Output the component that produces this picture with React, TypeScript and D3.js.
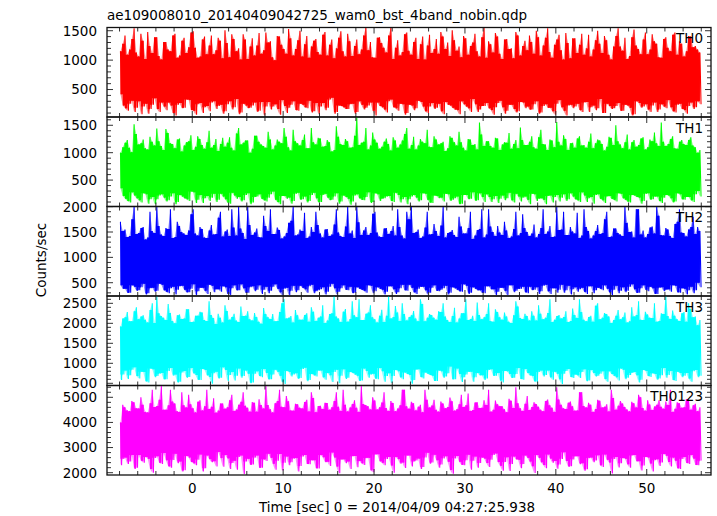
import React from "react";
import * as d3 from "d3";

const TITLE = "ae109008010_20140409042725_wam0_bst_4band_nobin.qdp";
const X_LABEL = "Time [sec] 0 = 2014/04/09 04:27:25.938";
const Y_LABEL = "Counts/sec";

// time grid of the light-curve samples (seconds): each 0.5 s step holds
// a high, a low, a second high and a second low excursion
const T_START = -7.9;
const T_STEP = 0.5;

const panelNames = ["TH0", "TH1", "TH2", "TH3", "TH0123"];
const panelColors = ["#ff0000", "#00ff00", "#0000ff", "#00ffff", "#ff00ff"];
const yDomains: [number, number][] = [
  [33, 1555],
  [18, 1651],
  [238, 2003],
  [445, 2683],
  [1908, 5470],
];
const yMajorTicks = [
  [500, 1000, 1500],
  [500, 1000, 1500],
  [500, 1000, 1500, 2000],
  [500, 1000, 1500, 2000, 2500],
  [2000, 3000, 4000, 5000],
];
const yMinorStep = [100, 100, 100, 100, 200];
const xTickLabels = [0, 10, 20, 30, 40, 50];
const xDomain: [number, number] = [-9.38, 57.07];

// ---- TH0 (counts/sec)
const th0Hi = [
  1150, 1420, 1180, 1540, 1060, 1330, 1480, 1120, 1390, 1010,
  1310, 1150, 1450, 1080, 1380, 1220, 1490, 1040, 1350, 1100,
  1420, 1170, 1330, 1510, 1050, 1360, 1200, 1440, 1020, 1370,
  1250, 1110, 1470, 1320, 1000, 1400, 1190, 1530, 1080, 1340,
  1060, 1410, 1230, 1360, 1090, 1480, 1260, 1030, 1380, 1150,
  1450, 1070, 1350, 1180, 1560, 1310, 1040, 1390, 1210, 1420,
  1020, 1340, 1140, 1470, 1090, 1380, 1270, 1010, 1430, 1190,
  1110, 1400, 1300, 1510, 1160, 1050, 1370, 1240, 1450, 1060,
  1550, 1320, 1130, 1400, 1020, 1360, 1200, 1480, 1080, 1330,
  1420, 1110, 1390, 1250, 1540, 1040, 1350, 1170, 1460, 1030,
  1370, 1260, 1090, 1430, 1180, 1500, 1120, 1340, 1010, 1410,
  1230, 1380, 1070, 1520, 1190, 1350, 1100, 1440, 1280, 1040,
  1390, 1150, 1470, 1320, 1060, 1410, 1220, 1180,
];
const th0Lo = [
  420, 180, 260, 120, 300, 210, 90, 240, 170, 280,
  150, 230, 60, 270, 190, 320, 140, 250, 100, 220,
  280, 170, 240, 130, 300, 200, 80, 260, 180, 230,
  120, 290, 210, 160, 250, 70, 220, 190, 300, 140,
  240, 180, 110, 270, 210, 150, 330, 90, 230, 200,
  170, 260, 120, 240, 190, 280, 60, 220, 160, 300,
  200, 140, 250, 100, 230, 180, 290, 130, 210, 170,
  260, 80, 240, 190, 150, 300, 210, 120, 250, 160,
  220, 180, 70, 270, 200, 140, 240, 110, 290, 180,
  160, 250, 90, 220, 190, 130, 260, 200, 60, 240,
  210, 150, 280, 120, 230, 180, 100, 260, 170, 220,
  140, 240, 190, 80, 270, 210, 160, 230, 120, 250,
  180, 200, 110, 260, 150, 220, 170, 300,
];
const th0Hi2 = [
  1280, 1090, 1360, 1130, 1450, 1020, 1240, 1390, 1070, 1310,
  1180, 1420, 1040, 1330, 1120, 1470, 1210, 1060, 1400, 1250,
  1100, 1380, 1030, 1290, 1440, 1150, 1010, 1350, 1230, 1080,
  1460, 1170, 1300, 1050, 1410, 1260, 1110, 1370, 1190, 1500,
  1270, 1040, 1330, 1140, 1430, 1080, 1350, 1200, 1490, 1060,
  1320, 1240, 1100, 1420, 1170, 1050, 1380, 1290, 1130, 1550,
  1210, 1080, 1440, 1160, 1310, 1020, 1400, 1250, 1120, 1360,
  1480, 1190, 1070, 1340, 1230, 1410, 1090, 1300, 1150, 1390,
  1040, 1270, 1460, 1110, 1350, 1190, 1030, 1420, 1240, 1170,
  1310, 1500, 1080, 1380, 1140, 1260, 1430, 1010, 1290, 1370,
  1120, 1450, 1200, 1060, 1340, 1280, 1410, 1090, 1230, 1540,
  1160, 1020, 1390, 1250, 1100, 1470, 1180, 1320, 1050, 1360,
  1210, 1430, 1090, 1280, 1150, 1400, 1240, 1130,
];
const th0Lo2 = [
  230, 140, 310, 190, 80, 260, 170, 350, 120, 210,
  280, 100, 240, 180, 330, 150, 70, 270, 200, 130,
  300, 220, 90, 250, 160, 340, 110, 230, 190, 280,
  140, 60, 290, 210, 170, 320, 100, 240, 150, 260,
  200, 310, 130, 80, 270, 190, 360, 120, 220, 170,
  250, 90, 300, 160, 230, 140, 280, 200, 110, 330,
  180, 260, 70, 240, 150, 310, 210, 100, 270, 190,
  130, 290, 230, 160, 80, 250, 180, 340, 120, 220,
  270, 150, 200, 310, 90, 240, 170, 130, 280, 210,
  160, 300, 110, 250, 190, 70, 320, 140, 230, 180,
  260, 120, 290, 200, 150, 340, 100, 220, 180, 270,
  140, 230, 60, 300, 190, 250, 120, 280, 160, 210,
  320, 130, 240, 170, 90, 280, 200, 250,
];

// ---- TH1
const th1Hi = [
  1000, 1180, 1090, 1520, 1150, 1240, 1060, 1200, 1440, 1120,
  1430, 1170, 1080, 1260, 1130, 1210, 1050, 1300, 1140, 1190,
  1090, 1250, 1160, 1110, 1280, 1040, 1450, 1180, 1220, 1070,
  1310, 1150, 1090, 1240, 1130, 1200, 1450, 1100, 1420, 1170,
  1230, 1080, 1450, 1150, 1260, 1120, 1190, 1050, 1290, 1140,
  1210, 1100, 1650, 1180, 1450, 1130, 1240, 1070, 1200, 1160,
  1280, 1090, 1220, 1450, 1140, 1060, 1250, 1170, 1110, 1300,
  1150, 1200, 1080, 1270, 1130, 1190, 1040, 1240, 1160, 1550,
  1120, 1210, 1090, 1260, 1150, 1180, 1070, 1230, 1460, 1140,
  1200, 1100, 1280, 1160, 1050, 1220, 1560, 1130, 1250, 1170,
  1090, 1300, 1140, 1200, 1080, 1240, 1160, 1110, 1270, 1500,
  1150, 1190, 1060, 1230, 1140, 1280, 1100, 1210, 1170, 1550,
  1120, 1250, 1080, 1200, 1160, 1230, 1130, 1000,
];
const th1Lo = [
  350, 160, 90, 220, 130, 260, 70, 190, 150, 240,
  110, 200, 60, 230, 170, 120, 280, 140, 80, 210,
  180, 100, 250, 150, 70, 220, 190, 130, 260, 90,
  200, 160, 110, 240, 140, 60, 210, 180, 120, 270,
  150, 90, 230, 170, 100, 250, 130, 200, 70, 220,
  160, 110, 240, 140, 190, 80, 260, 120, 170, 210,
  100, 230, 150, 60, 200, 180, 130, 250, 90, 220,
  170, 110, 240, 140, 200, 70, 230, 160, 120, 260,
  100, 190, 150, 80, 220, 170, 130, 250, 110, 200,
  60, 240, 160, 140, 210, 90, 230, 180, 120, 260,
  150, 100, 220, 170, 70, 240, 130, 200, 160, 110,
  250, 140, 90, 220, 180, 120, 260, 150, 200, 80,
  230, 170, 110, 240, 140, 190, 100, 300,
];
const th1Hi2 = [
  1100, 1230, 1010, 1340, 1170, 1080, 1290, 1130, 1210, 1050,
  1360, 1160, 1240, 1020, 1190, 1320, 1110, 1250, 1070, 1400,
  1140, 1030, 1270, 1180, 1090, 1350, 1150, 1220, 1000, 1310,
  1200, 1120, 1380, 1060, 1240, 1170, 1290, 1040, 1210, 1130,
  1330, 1080, 1190, 1270, 1110, 1230, 1020, 1480, 1160, 1250,
  1090, 1310, 1140, 1200, 1060, 1370, 1180, 1110, 1260, 1040,
  1220, 1150, 1340, 1070, 1290, 1130, 1200, 1420, 1100, 1240,
  1170, 1030, 1300, 1190, 1380, 1090, 1250, 1140, 1060, 1330,
  1210, 1120, 1270, 1050, 1190, 1360, 1160, 1080, 1230, 1140,
  1300, 1070, 1420, 1150, 1240, 1100, 1200, 1320, 1050, 1180,
  1260, 1130, 1090, 1350, 1170, 1220, 1040, 1290, 1140, 1210,
  1080, 1330, 1190, 1110, 1260, 1060, 1240, 1370, 1120, 1200,
  1160, 1300, 1070, 1230, 1140, 1280, 1100, 1050,
];
const th1Lo2 = [
  210, 120, 280, 170, 90, 240, 150, 60, 220, 180,
  130, 260, 100, 200, 150, 290, 80, 230, 170, 120,
  250, 140, 200, 90, 270, 160, 110, 230, 60, 190,
  240, 130, 180, 290, 100, 210, 160, 70, 250, 140,
  200, 120, 270, 90, 230, 180, 140, 260, 110, 190,
  50, 220, 170, 130, 280, 100, 240, 160, 200, 120,
  270, 90, 190, 150, 230, 110, 260, 140, 80, 210,
  180, 250, 120, 170, 60, 230, 150, 280, 130, 190,
  240, 100, 210, 160, 130, 270, 90, 200, 180, 140,
  250, 120, 170, 60, 220, 190, 110, 240, 150, 200,
  130, 280, 100, 190, 230, 160, 80, 210, 140, 260,
  170, 110, 230, 190, 70, 250, 140, 200, 120, 180,
  220, 90, 260, 150, 190, 130, 240, 200,
];

// ---- TH2
const th2Hi = [
  1700, 1550, 1420, 2000, 1480, 1600, 1390, 1520, 2000, 1450,
  1580, 1950, 1400, 1620, 1470, 1530, 1950, 1430, 1560, 1380,
  1640, 1460, 1900, 1510, 1420, 1590, 2000, 1480, 2000, 1440,
  1570, 1390, 1620, 1950, 1460, 1540, 1410, 1680, 2000, 1450,
  1520, 1380, 1600, 1900, 1470, 1550, 1420, 1650, 1490, 1400,
  2000, 1530, 2000, 1440, 1600, 1480, 1900, 1410, 1570, 1460,
  1620, 1950, 1430, 1900, 2000, 1500, 1380, 1590, 1450, 1660,
  1420, 2000, 1480, 1540, 1400, 1610, 1470, 1900, 1430, 1560,
  1390, 1950, 1500, 1620, 1440, 1530, 1410, 1900, 1480, 1580,
  1420, 1650, 1460, 1950, 1510, 1400, 2000, 1550, 1440, 1600,
  1470, 1380, 1950, 1520, 1430, 1640, 1480, 1900, 1410, 1570,
  1450, 2000, 1500, 1390, 1950, 1530, 1460, 1610, 2000, 1440,
  1580, 1420, 1660, 1950, 1480, 1550, 1800, 1600,
];
const th2Lo = [
  450, 380, 300, 420, 350, 480, 290, 400, 340, 460,
  320, 390, 270, 430, 360, 310, 470, 330, 400, 280,
  440, 370, 320, 410, 260, 450, 350, 390, 300, 430,
  360, 280, 420, 340, 470, 310, 380, 260, 440, 350,
  400, 300, 460, 330, 370, 270, 420, 390, 320, 450,
  350, 290, 410, 360, 300, 440, 330, 380, 270, 430,
  370, 310, 460, 340, 400, 280, 420, 350, 300, 450,
  330, 390, 270, 410, 360, 320, 440, 300, 380, 350,
  290, 430, 370, 320, 400, 260, 450, 340, 380, 310,
  420, 360, 280, 440, 330, 390, 300, 460, 350, 270,
  410, 370, 320, 430, 290, 400, 350, 380, 260, 440,
  340, 310, 420, 370, 300, 450, 330, 390, 280, 410,
  360, 320, 440, 300, 380, 350, 290, 500,
];
const th2Hi2 = [
  1520, 1400, 1750, 1460, 1580, 1350, 1900, 1480, 1620, 1420,
  1560, 1380, 1700, 1500, 1440, 1850, 1470, 1600, 1390, 1530,
  1450, 1780, 1410, 1550, 1950, 1430, 1570, 1360, 1640, 1490,
  1400, 1820, 1520, 1460, 1590, 1370, 1480, 1720, 1430, 1550,
  1880, 1410, 1500, 1640, 1390, 1560, 1450, 1950, 1420, 1610,
  1470, 1380, 1690, 1530, 1440, 1860, 1490, 1400, 1580, 1520,
  1430, 1600, 1370, 1750, 1480, 1550, 1410, 1900, 1460, 1520,
  1630, 1390, 1500, 1440, 1800, 1470, 1580, 1360, 1540, 1950,
  1450, 1610, 1420, 1490, 1700, 1380, 1560, 1430, 1850, 1500,
  1470, 1390, 1580, 1460, 1620, 1410, 1540, 1900, 1440, 1510,
  1880, 1430, 1600, 1370, 1520, 1460, 1750, 1400, 1570, 1480,
  1420, 1680, 1510, 1950, 1450, 1390, 1590, 1470, 1820, 1430,
  1550, 1380, 1700, 1490, 1410, 1600, 1460, 1520,
];
const th2Lo2 = [
  380, 300, 450, 340, 410, 270, 390, 320, 480, 350,
  290, 420, 360, 440, 310, 380, 260, 400, 340, 460,
  310, 370, 430, 280, 390, 350, 470, 300, 410, 330,
  450, 360, 290, 420, 380, 260, 400, 340, 310, 440,
  370, 430, 290, 350, 410, 320, 480, 270, 390, 360,
  420, 300, 380, 340, 450, 290, 410, 360, 320, 430,
  280, 390, 350, 460, 310, 380, 420, 270, 400, 340,
  360, 440, 300, 390, 330, 470, 280, 410, 350, 300,
  430, 370, 260, 400, 340, 450, 310, 380, 420, 290,
  350, 410, 330, 460, 280, 390, 360, 300, 440, 370,
  320, 400, 280, 430, 350, 380, 450, 310, 360, 290,
  410, 340, 470, 300, 390, 360, 420, 280, 400, 330,
  370, 450, 310, 390, 270, 420, 350, 410,
];

// ---- TH3
const th3Hi = [
  1920, 2150, 2050, 2300, 2100, 2200, 2020, 2500, 2680, 2180,
  2080, 2260, 2000, 2220, 2120, 2350, 2040, 2190, 2270, 2060,
  2210, 1980, 2140, 2450, 2090, 2240, 2030, 2180, 2300, 2070,
  2160, 1990, 2230, 2110, 2050, 2280, 2600, 2140, 2020, 2200,
  2090, 2250, 2400, 2060, 2170, 2010, 2230, 2680, 2120, 2290,
  2040, 2550, 2150, 2080, 2240, 2450, 2100, 2190, 2030, 2680,
  2160, 2270, 2500, 2070, 2200, 2120, 2600, 2050, 2230, 2140,
  2300, 2500, 2080, 2180, 2020, 2250, 2600, 2110, 2060, 2210,
  2150, 2500, 2040, 2280, 2090, 2170, 2010, 2550, 2130, 2240,
  2070, 2190, 2450, 2100, 2260, 2030, 2180, 2120, 2300, 2060,
  2210, 2600, 2090, 2160, 2040, 2500, 2140, 2230, 2010, 2190,
  2100, 2270, 2050, 2170, 2550, 2080, 2220, 2130, 2040, 2250,
  2680, 2110, 2190, 2060, 2280, 2500, 2150, 1950,
];
const th3Lo = [
  580, 820, 700, 900, 620, 780, 520, 850, 680, 760,
  600, 880, 720, 540, 810, 660, 750, 590, 860, 700,
  490, 790, 640, 830, 710, 570, 870, 680, 740, 520,
  800, 650, 760, 600, 840, 690, 480, 780, 720, 610,
  860, 550, 730, 670, 820, 590, 700, 780, 500, 850,
  640, 760, 690, 570, 810, 720, 620, 880, 540, 750,
  680, 800, 600, 730, 490, 840, 660, 770, 710, 560,
  820, 640, 750, 600, 870, 530, 720, 790, 650, 700,
  580, 830, 690, 760, 520, 800, 640, 730, 610, 860,
  700, 550, 780, 670, 820, 590, 740, 480, 810, 660,
  720, 630, 850, 570, 760, 690, 800, 540, 730, 650,
  870, 600, 710, 780, 520, 830, 680, 750, 590, 700,
  640, 810, 560, 760, 690, 620, 800, 650,
];
const th3Hi2 = [
  2120, 2280, 2050, 2400, 2170, 2090, 2330, 2010, 2250, 2140,
  2480, 2060, 2200, 2110, 2350, 2030, 2190, 2290, 2080, 2550,
  2130, 2240, 2020, 2310, 2160, 2070, 2420, 2190, 2100, 2260,
  2040, 2380, 2150, 2230, 2060, 2500, 2120, 2180, 2330, 2090,
  2210, 2040, 2290, 2140, 2450, 2070, 2250, 2170, 2030, 2360,
  2110, 2200, 2600, 2080, 2270, 2150, 2020, 2340, 2190, 2120,
  2430, 2060, 2230, 2160, 2310, 2050, 2480, 2140, 2210, 2090,
  2280, 2170, 2030, 2390, 2120, 2250, 2080, 2190, 2520, 2100,
  2230, 2060, 2350, 2150, 2270, 2040, 2200, 2420, 2110, 2180,
  2300, 2070, 2240, 2140, 2600, 2090, 2210, 2160, 2030, 2370,
  2130, 2280, 2050, 2190, 2440, 2100, 2260, 2170, 2080, 2330,
  2150, 2020, 2400, 2210, 2090, 2290, 2140, 2500, 2060, 2230,
  2180, 2320, 2100, 2250, 2040, 2360, 2170, 2080,
];
const th3Lo2 = [
  720, 610, 840, 680, 790, 550, 870, 650, 740, 600,
  810, 690, 520, 770, 640, 880, 710, 580, 830, 660,
  750, 620, 900, 560, 780, 690, 640, 820, 500, 740,
  680, 860, 600, 720, 790, 540, 810, 670, 750, 630,
  890, 580, 700, 820, 650, 760, 530, 840, 690, 610,
  780, 720, 560, 870, 640, 740, 600, 800, 680, 510,
  830, 650, 770, 710, 580, 850, 620, 740, 690, 560,
  800, 670, 920, 600, 730, 650, 790, 540, 760, 700,
  620, 850, 690, 570, 810, 730, 640, 880, 590, 760,
  680, 520, 820, 710, 650, 790, 600, 740, 860, 630,
  700, 780, 550, 830, 670, 740, 610, 800, 690, 570,
  840, 640, 760, 700, 590, 810, 660, 730, 620, 880,
  710, 580, 790, 650, 760, 540, 830, 690,
];

// ---- TH0123
const th0123Hi = [
  4000, 4600, 4450, 4800, 4550, 4700, 4400, 5300, 4650, 5470,
  4500, 5300, 4750, 4420, 4680, 5100, 4560, 4820, 4480, 5300,
  4620, 4390, 4750, 4540, 4880, 4460, 4700, 5200, 4580, 4810,
  4430, 4690, 5470, 4520, 4760, 5300, 4600, 4840, 4470, 4720,
  4550, 4900, 5200, 4410, 4660, 4780, 4500, 4850, 4620, 5300,
  4440, 4730, 4580, 5470, 4690, 4510, 4870, 4600, 5200, 4460,
  4770, 4550, 5300, 4640, 4820, 4480, 4700, 5300, 4590, 4900,
  4430, 4750, 4610, 4840, 4520, 5100, 4680, 4460, 4790, 4570,
  4880, 5300, 4500, 4720, 4640, 4410, 4860, 5400, 4560, 4740,
  4490, 4800, 4620, 4450, 4910, 4580, 5400, 4700, 4530, 4830,
  4470, 5200, 4650, 4780, 4420, 4900, 4590, 4720, 5300, 4500,
  4850, 4610, 4440, 4760, 5100, 4570, 4880, 4490, 4700, 4620,
  4830, 5300, 4540, 4760, 4600, 4900, 4680, 4450,
];
const th0123Lo = [
  2300, 2600, 2450, 2150, 2700, 2400, 2550, 2000, 2650, 2350,
  2500, 2200, 2750, 2450, 2100, 2600, 2380, 2520, 2050, 2680,
  2420, 2250, 2580, 2700, 2150, 2480, 2620, 1950, 2550, 2330,
  2680, 2200, 2470, 2590, 2120, 2740, 2400, 2300, 2560, 2050,
  2640, 2350, 2500, 2180, 2700, 2420, 2270, 2600, 1980, 2530,
  2450, 2650, 2220, 2380, 2580, 2100, 2720, 2460, 2300, 2620,
  2000, 2540, 2410, 2680, 2250, 2490, 2150, 2600, 2360, 2710,
  2200, 2570, 2440, 1960, 2660, 2320, 2500, 2120, 2640, 2390,
  2560, 2230, 2700, 2430, 2080, 2610, 2350, 2530, 2180, 2680,
  2450, 1990, 2590, 2310, 2720, 2400, 2160, 2550, 2470, 2260,
  2650, 2340, 2080, 2580, 2420, 2690, 2230, 2510, 1970, 2620,
  2380, 2550, 2200, 2700, 2460, 2290, 2600, 2050, 2530, 2410,
  2670, 2250, 2480, 2150, 2620, 2350, 2560, 2300,
];
const th0123Hi2 = [
  4700, 4480, 4850, 4560, 5000, 4420, 4760, 4610, 4900, 4500,
  4680, 4830, 4450, 5200, 4590, 4720, 4400, 4880, 4640, 4530,
  4960, 4470, 4750, 4600, 5100, 4510, 4820, 4660, 4430, 4780,
  4920, 4550, 4690, 4400, 4850, 4620, 5050, 4480, 4740, 4580,
  4810, 4440, 4970, 4650, 4530, 4770, 4600, 5200, 4460, 4700,
  4590, 4880, 4420, 4730, 4640, 5000, 4510, 4790, 4570, 4850,
  4450, 4680, 5300, 4540, 4760, 4620, 4410, 4900, 4670, 4500,
  4830, 4560, 4990, 4470, 4720, 4610, 5150, 4490, 4800, 4580,
  4690, 4430, 4870, 4640, 4520, 4940, 4570, 4760, 4460, 5050,
  4610, 4730, 4500, 4850, 4680, 4420, 4910, 4560, 4780, 4640,
  4480, 5200, 4590, 4700, 4530, 4860, 4620, 4440, 4970, 4660,
  4750, 4510, 4820, 4590, 5000, 4470, 4710, 4630, 4880, 4540,
  4690, 4420, 4800, 4580, 4930, 4500, 4740, 4600,
];
const th0123Lo2 = [
  2550, 2350, 2700, 2200, 2480, 2620, 2150, 2590, 2400, 2780,
  2260, 2510, 2380, 2050, 2660, 2430, 2300, 2720, 2180, 2540,
  2460, 2820, 2240, 2570, 2390, 2120, 2680, 2450, 2310, 2600,
  2200, 2530, 2750, 2360, 2480, 2090, 2640, 2420, 2580, 2270,
  2700, 2340, 2500, 2170, 2610, 2440, 2800, 2250, 2520, 2380,
  2150, 2660, 2470, 2310, 2590, 2020, 2730, 2400, 2550, 2290,
  2620, 2360, 2190, 2680, 2450, 2560, 2230, 2790, 2410, 2500,
  2330, 2650, 2110, 2570, 2440, 2300, 2710, 2480, 2200, 2600,
  2390, 2520, 2760, 2280, 2430, 2070, 2640, 2510, 2350, 2590,
  2260, 2700, 2420, 2180, 2560, 2470, 2330, 2810, 2240, 2530,
  2650, 2380, 2140, 2600, 2490, 2300, 2720, 2410, 2550, 2210,
  2580, 2340, 2680, 2460, 2090, 2620, 2370, 2500, 2270, 2740,
  2430, 2600, 2180, 2550, 2390, 2700, 2310, 2480,
];

const hiSeries = [th0Hi, th1Hi, th2Hi, th3Hi, th0123Hi];
const loSeries = [th0Lo, th1Lo, th2Lo, th3Lo, th0123Lo];
const hi2Series = [th0Hi2, th1Hi2, th2Hi2, th3Hi2, th0123Hi2];
const lo2Series = [th0Lo2, th1Lo2, th2Lo2, th3Lo2, th0123Lo2];

const W = 717;
const H = 516;
const LEFT = 107;
const RIGHT = 711;
const TOP = 27.5;
const PANEL_H = 89.5;
const FONT = "'DejaVu Sans', Verdana, sans-serif";
const FS = 13.5;

type Pt = { t: number; v: number };
type Band = { t: number; a: number; b: number };

export default function App() {
  const x = d3.scaleLinear().domain(xDomain).range([LEFT, RIGHT]);
  const xMinor = d3.range(-8, 57, 2);
  const bottom = TOP + PANEL_H * panelNames.length;

  return (
    <svg
      width={W}
      height={H}
      style={{ position: "absolute", left: 0, top: 0, background: "#fff" }}
      fontFamily={FONT}
    >
      <rect x={0} y={0} width={W} height={H} fill="#fff" />
      <defs>
        {panelNames.map((n, p) => (
          <clipPath id={`clip${p}`} key={n}>
            <rect x={LEFT} y={TOP + p * PANEL_H} width={RIGHT - LEFT} height={PANEL_H} />
          </clipPath>
        ))}
      </defs>
      {panelNames.map((name, p) => {
        const top = TOP + p * PANEL_H;
        const bot = top + PANEL_H;
        const y = d3.scaleLinear().domain(yDomains[p]).range([bot, top]);
        const hi = hiSeries[p];
        const lo = loSeries[p];
        const hi2 = hi2Series[p];
        const lo2 = lo2Series[p];
        const n = Math.min(hi.length, lo.length, hi2.length, lo2.length);
        const q = T_STEP / 4;
        // peaks / troughs in time order
        const peaks: Pt[] = [];
        const troughs: Pt[] = [];
        const curve: Pt[] = [];
        for (let i = 0; i < n; i++) {
          const t = T_START + i * T_STEP;
          peaks.push({ t, v: hi[i] }, { t: t + 2 * q, v: hi2[i] });
          troughs.push({ t: t + q, v: lo[i] }, { t: t + 3 * q, v: lo2[i] });
          curve.push(
            { t, v: hi[i] },
            { t: t + q, v: lo[i] },
            { t: t + 2 * q, v: hi2[i] },
            { t: t + 3 * q, v: lo2[i] }
          );
        }
        const env: Band[] = peaks.map((pk, k) => ({ t: pk.t, a: troughs[k].v, b: pk.v }));
        const core: Band[] = [];
        for (let k = 0; k < peaks.length - 1; k++) {
          const a = Math.max(troughs[k].v, troughs[k + 1].v);
          const b = Math.min(peaks[k].v, peaks[k + 1].v);
          core.push({ t: peaks[k].t, a, b }, { t: peaks[k + 1].t, a, b });
        }
        const line = d3
          .line<Pt>()
          .x((d) => x(d.t))
          .y((d) => y(d.v));
        const area = d3
          .area<Band>()
          .x((d) => x(d.t))
          .y0((d) => y(d.a))
          .y1((d) => y(d.b));
        const step = yMinorStep[p];
        const minor = d3
          .range(Math.ceil(yDomains[p][0] / step) * step, yDomains[p][1], step)
          .filter((v) => !yMajorTicks[p].includes(v));
        return (
          <g key={name}>
            <g clipPath={`url(#clip${p})`}>
              <path d={area(env) || ""} fill={panelColors[p]} fillOpacity={0.45} />
              <path d={area(core) || ""} fill={panelColors[p]} />
              <path
                d={line(curve) || ""}
                fill="none"
                stroke={panelColors[p]}
                strokeWidth={1.1}
                strokeLinejoin="miter"
                strokeMiterlimit={2}
              />
            </g>
            <g stroke="#333" strokeWidth={1}>
              {yMajorTicks[p].map((v) => (
                <g key={`M${v}`}>
                  <line x1={LEFT} x2={LEFT + 6} y1={y(v)} y2={y(v)} />
                  <line x1={RIGHT} x2={RIGHT - 6} y1={y(v)} y2={y(v)} />
                </g>
              ))}
              {minor.map((v) => (
                <g key={`m${v}`}>
                  <line x1={LEFT} x2={LEFT + 4} y1={y(v)} y2={y(v)} />
                  <line x1={RIGHT} x2={RIGHT - 4} y1={y(v)} y2={y(v)} />
                </g>
              ))}
              {xMinor.map((t) => {
                const len = t % 10 === 0 ? 6 : 4;
                return (
                  <g key={`x${t}`}>
                    <line x1={x(t)} x2={x(t)} y1={top} y2={top + len} />
                    <line x1={x(t)} x2={x(t)} y1={bot} y2={bot - len} />
                  </g>
                );
              })}
            </g>
            <rect
              x={LEFT}
              y={top}
              width={RIGHT - LEFT}
              height={PANEL_H}
              fill="none"
              stroke="#111"
              strokeWidth={1.3}
            />
            {yMajorTicks[p].map((v) => (
              <text
                key={`l${v}`}
                x={97}
                y={y(v)}
                dy="0.36em"
                textAnchor="end"
                fontSize={FS}
                fill="#000"
              >
                {v}
              </text>
            ))}
            <text x={703} y={top + 15.5} textAnchor="end" fontSize={FS} fill="#000">
              {name}
            </text>
          </g>
        );
      })}
      {xTickLabels.map((t) => (
        <text key={t} x={x(t)} y={bottom + 17.5} textAnchor="middle" fontSize={FS} fill="#000">
          {t}
        </text>
      ))}
      <text x={107} y={20} fontSize={FS} fill="#000">
        {TITLE}
      </text>
      <text x={397} y={512} textAnchor="middle" fontSize={FS} fill="#000">
        {X_LABEL}
      </text>
      <text
        transform={`translate(45.5, 260) rotate(-90)`}
        textAnchor="middle"
        fontSize={FS}
        fill="#000"
      >
        {Y_LABEL}
      </text>
    </svg>
  );
}
